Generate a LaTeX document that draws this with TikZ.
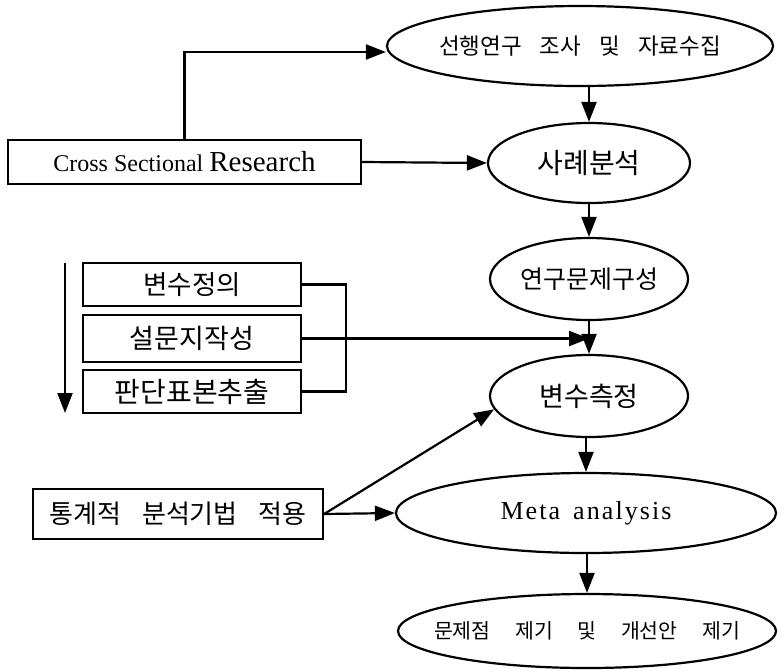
\documentclass[tikz,border=0pt]{standalone}
\usepackage{fontspec}
\setmainfont{Liberation Serif}
\newfontfamily\kr{Noto Sans CJK KR}
\newfontfamily\latsp{Liberation Serif}[LetterSpace=8]
\usetikzlibrary{shapes.geometric,arrows.meta}
\newcommand\fs[1]{\fontsize{#1}{#1}\selectfont}
\newcommand\wgap[1]{\hspace{#1em}}

\begin{document}
\begin{tikzpicture}[x=1pt,y=-1pt,
  line width=2.2pt,
  oval/.style={draw, ellipse, inner sep=0pt, line width=2.2pt},
  box/.style={draw, rectangle, inner sep=0pt, line width=2.2pt},
  arr/.style={-{Triangle[length=20pt,width=15pt]}},
]
\useasboundingbox (0,0) rectangle (778,670);

% main flow: ellipses of fixed size, their texts set as centred labels
\node[oval, minimum width=386pt, minimum height=80pt,
  label=center:{\kr\fs{22.5}선행연구\wgap{0.8}조사\wgap{0.8}및\wgap{0.8}자료수집}]
  (e1) at (580,46) {};
\node[oval, minimum width=202pt, minimum height=80pt,
  label=center:{\kr\fs{28}사례분석}] (e2) at (589,163) {};
\node[oval, minimum width=198pt, minimum height=82pt,
  label=center:{\kr\fs{25}연구문제구성}] (e3) at (589,279) {};
\node[oval, minimum width=198pt, minimum height=82pt,
  label=center:{\kr\fs{27}변수측정}] (e4) at (589,396) {};
\node[oval, minimum width=380pt, minimum height=80pt,
  label=center:{\latsp\fs{26}Meta\wgap{0.5}analysis}] (e5) at (586,513) {};
\node[oval, minimum width=378pt, minimum height=74pt,
  label=center:{\kr\fs{20.5}문제점\wgap{1.2}제기\wgap{1.2}및\wgap{1.2}개선안\wgap{1.2}제기}]
  (e6) at (587,631) {};

% side boxes
\node[box, minimum width=353pt, minimum height=44pt] (csr) at (184.5,162)
  {\fs{24}Cross Sectional \fs{29}Research};
\node[box, minimum width=218pt, minimum height=43pt] (b1) at (192,284.5)
  {\kr\fs{26.5}변수정의};
\node[box, minimum width=218pt, minimum height=47pt] (b2) at (192,338.5)
  {\kr\fs{27}설문지작성};
\node[box, minimum width=218pt, minimum height=43pt] (b3) at (192,391.5)
  {\kr\fs{28}판단표본추출};
\node[box, minimum width=290pt, minimum height=50pt] (st) at (178,514)
  {\kr\fs{26}통계적\wgap{0.8}분석기법\wgap{0.8}적용};

% order of the three preparation steps
\coordinate (ordtop) at (65,263);
\coordinate (ordbot) at (65,413);
\draw[arr] (ordtop) -- (ordbot);

% connectors
\draw[arr] (csr.north) |- (e1.west |- 0,52);
\draw[arr] (csr.east) -- (e2.west);
\draw[arr] (e1.south -| e2.north) -- (e2.north);
\draw[arr] (e2.south) -- (e3.north);
\draw[arr] (e3.south) -- (e4.north);
\draw (b1.east) -- ++(44,0) |- (b3.east);
\draw[arr] (b2.east) -- (b2.east -| e3.south);
\draw[arr] (st.east) -- (e4.188);
\draw[arr] (st.east) -- (e5.west);
\draw[arr] (e4.south -| e5.north) -- (e5.north);
\draw[arr] (e5.south -| e6.north) -- (e6.north);
\end{tikzpicture}
\end{document}
